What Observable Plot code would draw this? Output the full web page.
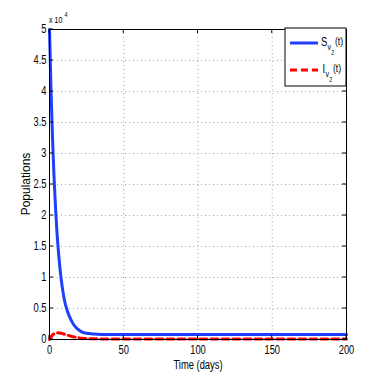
<!DOCTYPE html>
<html><head><meta charset="utf-8">
<script src="https://cdn.jsdelivr.net/npm/d3@7"></script>
<script src="https://cdn.jsdelivr.net/npm/@observablehq/plot@0.6"></script>
<style>
body{margin:0;background:#fff;}
#chart{position:relative;width:382px;height:382px;}
svg{font-family:"Liberation Sans",Arial,sans-serif;}
</style></head>
<body><div id="chart"></div>
<script>
const time = [0,1,2,3,4,5,6,7,8,9,10,12,14,16,18,20,22,25,30,35,40,50,60,80,100,120,150,175,200];
const susceptible = [50000,40400,32700,26500,21500,17400,14200,11600,9500,7800,6400,4600,3400,2500,1900,1500,1200,1000,880,820,800,800,800,800,800,800,800,800,800];
const infected = [0,400,700,900,1000,1050,1080,1050,1000,920,850,700,560,440,340,260,200,150,110,100,100,100,100,100,100,100,100,100,100];
const xTicks = [0,50,100,150,200];
const yTicks = [0,5000,10000,15000,20000,25000,30000,35000,40000,45000,50000];
const seriesNames = ["S", "I"];

const S = time.map((t,i)=>({t, v: susceptible[i]}));
const I = time.map((t,i)=>({t, v: infected[i]}));

const plot = Plot.plot({
  width: 382, height: 382,
  marginLeft: 49, marginRight: 36, marginTop: 29, marginBottom: 43,
  style: {fontSize: "12px", background: "#fff"},
  x: {domain: [0,200], label: null},
  y: {domain: [0,50000], label: null},
  marks: [
    Plot.ruleX(xTicks.slice(1,-1), {stroke: "#aaa", strokeDasharray: "1,3"}),
    Plot.ruleY(yTicks.slice(1,-1), {stroke: "#aaa", strokeDasharray: "1,3"}),
    Plot.line(I, {x: "t", y: "v", stroke: "#ff0000", strokeWidth: 3, strokeDasharray: "7,4", curve: "monotone-x"}),
    Plot.line(S, {x: "t", y: "v", stroke: "#1f3fff", strokeWidth: 3, curve: "monotone-x"}),
    Plot.frame({stroke: "#000"}),
    Plot.axisX(xTicks, {tickSize: 0, tickPadding: 6, fill: "#000", fontSize: 12, label: null}),
    Plot.axisY(yTicks, {tickSize: 0, tickPadding: 3, fill: "#000", fontSize: 12, label: null, tickFormat: d => d/10000})
  ]
});
document.getElementById("chart").appendChild(plot);

const svg = d3.select(plot);
const xs = plot.scale("x"), ys = plot.scale("y");
const L = 49, R = 346, T = 29, B = 339;
const g = svg.append("g").attr("stroke", "#000").attr("stroke-width", 1);
xTicks.forEach(v => {
  const px = xs.apply(v);
  g.append("line").attr("x1", px).attr("x2", px).attr("y1", B).attr("y2", B-4);
  g.append("line").attr("x1", px).attr("x2", px).attr("y1", T).attr("y2", T+4);
});
yTicks.forEach(v => {
  const py = ys.apply(v);
  g.append("line").attr("x1", L).attr("x2", L+4).attr("y1", py).attr("y2", py);
  g.append("line").attr("x1", R).attr("x2", R-4).attr("y1", py).attr("y2", py);
});
function txt(x, y, s, size, anchor) {
  return svg.append("text").attr("x", x).attr("y", y).attr("text-anchor", anchor || "start")
    .attr("font-size", size).attr("fill", "#000").text(s);
}
// axis labels
txt(198, 369, "Time (days)", 12, "middle");
svg.append("text").attr("class", "rot").attr("transform", "translate(30,184) rotate(-90)")
  .attr("text-anchor", "middle").attr("font-size", 12).text("Populations");
txt(49, 23, "x 10", 9);
txt(64.5, 17, "4", 7);
// legend
svg.append("rect").attr("x", 285).attr("y", 28).attr("width", 61).attr("height", 58)
  .attr("fill", "#fff").attr("stroke", "#000");
const items = [{name: seriesNames[0], color: "#1f3fff", dash: null, y: 43, nx: 321, sx: 327.5},
               {name: seriesNames[1], color: "#ff0000", dash: "7,4", y: 70, nx: 322.5, sx: 325.5}];
items.forEach(it => {
  svg.append("line").attr("x1", 290).attr("x2", 318).attr("y1", it.y).attr("y2", it.y)
    .attr("stroke", it.color).attr("stroke-width", 3).attr("stroke-dasharray", it.dash);
  txt(it.nx, it.y + 3, it.name, 12);
  txt(it.sx, it.y + 7, "v", 9);
  txt(it.sx + 3.8, it.y + 12, "2", 7);
  txt(it.sx + 7.5, it.y + 2, "(t)", 11);
});
// horizontally condensed text like the reference
svg.selectAll("text").each(function() {
  if (this.classList.contains("rot")) return;
  const len = this.getComputedTextLength();
  if (len > 0) {
    this.setAttribute("textLength", (len * 0.78).toFixed(1));
    this.setAttribute("lengthAdjust", "spacingAndGlyphs");
  }
});
</script></body></html>
